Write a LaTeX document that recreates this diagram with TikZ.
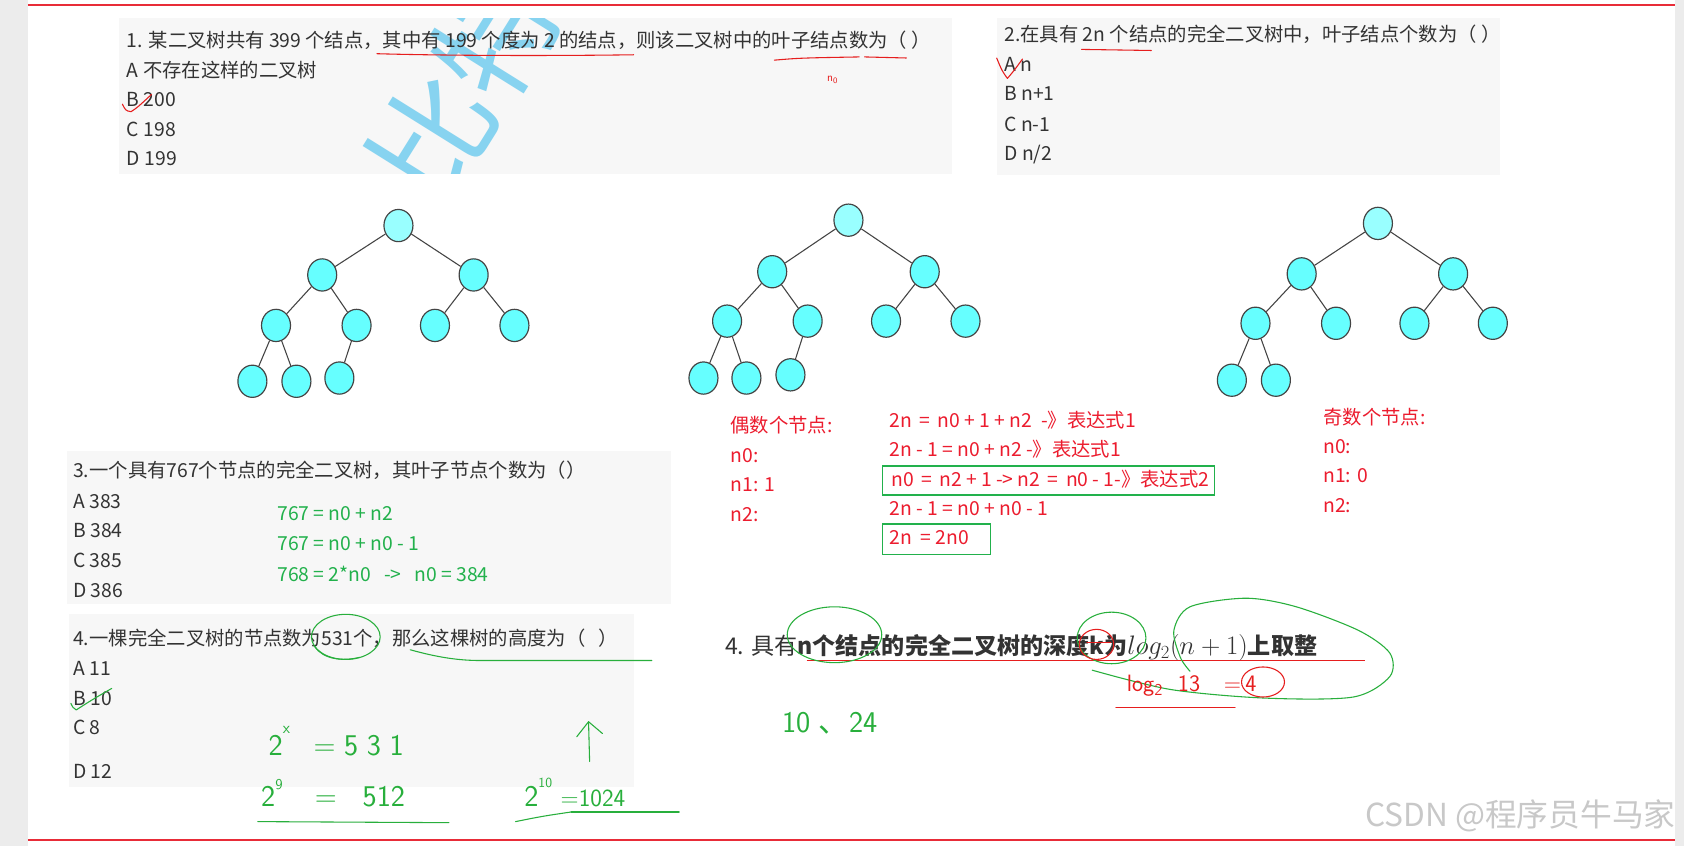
\documentclass[tikz,border=0pt]{standalone}
\usepackage{fontspec}
\usepackage{xcolor}
\usetikzlibrary{shapes.geometric,arrows.meta}
\newfontfamily\cjk{Noto Sans CJK SC}

\definecolor{sidegray}{RGB}{236,236,236}
\definecolor{panelgray}{RGB}{247,247,247}
\definecolor{inkgray}{RGB}{51,51,51}
\definecolor{redrule}{RGB}{232,44,56}
\definecolor{notered}{RGB}{236,28,46}
\definecolor{notegreen}{RGB}{34,177,76}
\definecolor{penred}{RGB}{230,30,30}
\definecolor{pengreen}{RGB}{40,175,60}
\definecolor{wmblue}{RGB}{135,211,240}
\definecolor{leafcyan}{RGB}{102,255,255}
\definecolor{rootcyan}{RGB}{153,255,255}
\definecolor{edgegray}{RGB}{68,68,68}
\definecolor{markgray}{RGB}{200,200,200}

\begin{document}
\begin{tikzpicture}[x=1pt,y=-1pt,
    qline/.style={anchor=base west, inner sep=0pt, text=inkgray,
                  font=\cjk\fontsize{18}{21}\selectfont},
    rnote/.style={qline, text=notered},
    gnote/.style={qline, text=notegreen},
    tnode/.style={ellipse, draw=edgegray, line width=1.1pt, fill=leafcyan,
                  minimum width=27pt, minimum height=30pt, inner sep=0pt},
    troot/.style={tnode, fill=rootcyan},
    tedge/.style={draw=edgegray, line width=1pt},
    penr/.style={draw=penred, line width=1pt, line cap=round, line join=round},
    peng/.style={draw=pengreen, line width=1pt, line cap=round, line join=round},
    gframe/.style={draw=notegreen, line width=1.2pt},
    hand/.style={anchor=base west, inner sep=0pt, text=pengreen,
                 font=\sffamily\fontsize{28}{28}\selectfont}]

  \useasboundingbox (0,0) rectangle (1568,788);
  \fill[white] (0,0) rectangle (1568,788);

  %% page frame: grey margins and the two red rules
  \fill[sidegray] (0,0) rectangle (26,788);
  \fill[sidegray] (1560,0) rectangle (1568,788);
  \draw[redrule, line width=2pt] (26,5) -- (1560,5);
  \draw[redrule, line width=2pt] (26,782) -- (1560,782);

  %% ---- question 1 ----
  \fill[panelgray] (111,17) rectangle (886,162);
  \begin{scope}
    \clip (111,17) rectangle (886,162);
    \node[rotate=58, text=wmblue, font=\cjk\fontsize{112}{112}\selectfont] (wm) at (432,80) {比特};
  \end{scope}
  \node[qline] (q1) at (118,44) {1. 某二叉树共有 399 个结点，其中有 199 个度为 2 的结点，则该二叉树中的叶子结点数为（ ）};
  \node[qline] (q1a) at (118,72) {A 不存在这样的二叉树};
  \node[qline] (q1b) at (118,99) {B 200};
  \node[qline] (q1c) at (118,127) {C 198};
  \node[qline] (q1d) at (118,154) {D 199};
  \draw[penr] (351,50) .. controls (420,52) and (520,52) .. (590,51);
  \draw[penr] (721,56) .. controls (745,54) .. (800,53);
  \draw[penr] (805,53) -- (844,54);
  \node[anchor=base west, inner sep=0pt, text=penred, font=\sffamily\fontsize{11}{11}\selectfont] (h0) at (770,76) {n\textsubscript{0}};
  \draw[penr] (114,97) .. controls (117,103) .. (122,104) .. controls (128,100) .. (141,88);

  %% ---- question 2 ----
  \fill[panelgray] (928,17) rectangle (1397,163);
  \node[qline] (q2) at (935,39) {2.在具有 2n 个结点的完全二叉树中，叶子结点个数为（ ）};
  \node[qline] (q2a) at (935,67) {A n};
  \node[qline] (q2b) at (935,94) {B n+1};
  \node[qline] (q2c) at (935,122) {C n-1};
  \node[qline] (q2d) at (935,149) {D n/2};
  \draw[penr] (1007,46) -- (1072,47);
  \draw[penr] (928,54) .. controls (933,66) .. (938,73) .. controls (944,66) .. (952,55);

  %% ---- three complete binary trees ----
  \node[troot] (a) at (371,210) {};
  \node[tnode] (a1) at (300,256) {};
  \node[tnode] (a2) at (441,256) {};
  \node[tnode] (a11) at (257,303) {};
  \node[tnode] (a12) at (332,303) {};
  \node[tnode] (a21) at (405,303) {};
  \node[tnode] (a22) at (479,303) {};
  \node[tnode] (a111) at (235,355) {};
  \node[tnode] (a112) at (276,355) {};
  \node[tnode] (a121) at (316,352) {};
  \draw[tedge] (a) -- (a1) (a) -- (a2) (a1) -- (a11) (a1) -- (a12) (a2) -- (a21) (a2) -- (a22)
               (a11) -- (a111) (a11) -- (a112) (a12) -- (a121);

  \node[troot] (b) at (790,205) {};
  \node[tnode] (b1) at (719,253) {};
  \node[tnode] (b2) at (861,253) {};
  \node[tnode] (b11) at (677,299) {};
  \node[tnode] (b12) at (752,299) {};
  \node[tnode] (b21) at (825,299) {};
  \node[tnode] (b22) at (899,299) {};
  \node[tnode] (b111) at (655,352) {};
  \node[tnode] (b112) at (695,352) {};
  \node[tnode] (b121) at (736,349) {};
  \draw[tedge] (b) -- (b1) (b) -- (b2) (b1) -- (b11) (b1) -- (b12) (b2) -- (b21) (b2) -- (b22)
               (b11) -- (b111) (b11) -- (b112) (b12) -- (b121);

  \node[troot] (c) at (1283,208) {};
  \node[tnode] (c1) at (1212,255) {};
  \node[tnode] (c2) at (1353,255) {};
  \node[tnode] (c11) at (1169,301) {};
  \node[tnode] (c12) at (1244,301) {};
  \node[tnode] (c21) at (1317,301) {};
  \node[tnode] (c22) at (1390,301) {};
  \node[tnode] (c111) at (1147,354) {};
  \node[tnode] (c112) at (1188,354) {};
  \draw[tedge] (c) -- (c1) (c) -- (c2) (c1) -- (c11) (c1) -- (c12) (c2) -- (c21) (c2) -- (c22)
               (c11) -- (c111) (c11) -- (c112);

  %% ---- even / odd notes ----
  \node[rnote] (ev) at (680,403) {偶数个节点:};
  \node[rnote] (ev0) at (680,431) {n0:};
  \node[rnote] (ev1) at (680,458) {n1: 1};
  \node[rnote] (ev2) at (680,486) {n2:};
  \node[rnote] (ex1) at (828,398) {2n \,=\, n0 + 1 + n2 \ -》表达式1};
  \node[rnote] (ex2) at (828,425) {2n - 1 = n0 + n2 -》表达式1};
  \node[rnote] (ex3) at (830,453) {n0 \,=\, n2 + 1 -\kern-1pt> n2 \,=\, n0 - 1-》表达式2};
  \node[rnote] (ex4) at (828,480) {2n - 1 = n0 + n0 - 1};
  \node[rnote] (ex5) at (828,507) {2n \ = 2n0};
  \draw[gframe] (822,434) rectangle (1131,461);
  \draw[gframe] (822,488) rectangle (922,516);

  \node[rnote] (od) at (1232,395) {奇数个节点:};
  \node[rnote] (od0) at (1232,422) {n0:};
  \node[rnote] (od1) at (1232,449) {n1: 0};
  \node[rnote] (od2) at (1232,477) {n2:};

  %% ---- question 3 ----
  \fill[panelgray] (62,420) rectangle (625,562);
  \node[qline] (q3) at (68,445) {3.一个具有767个节点的完全二叉树，其叶子节点个数为（）};
  \node[qline] (q3a) at (68,473) {A 383};
  \node[qline] (q3b) at (68,500) {B 384};
  \node[qline] (q3c) at (68,528) {C 385};
  \node[qline] (q3d) at (68,556) {D 386};
  \node[gnote] (s1) at (258,485) {767 = n0 + n2};
  \node[gnote] (s2) at (258,513) {767 = n0 + n0 - 1};
  \node[gnote] (s3) at (258,541) {768 = 2*n0 \ \ -> \ \ n0 = 384};

  %% ---- question 4 ----
  \fill[panelgray] (64,572) rectangle (590,733);
  \node[qline] (q4) at (68,601) {4.一棵完全二叉树的节点数为531个，那么这棵树的高度为（ \ \ ）};
  \node[qline] (q4a) at (68,629) {A 11};
  \node[qline] (q4b) at (68,657) {B 10};
  \node[qline] (q4c) at (68,684) {C 8};
  \node[qline] (q4d) at (68,725) {D 12};
  \draw[peng] (322,593) ellipse [x radius=32, y radius=21];
  \draw[peng] (293,602) .. controls (301,614) and (319,616) .. (335,612);
  \draw[peng] (382,605) .. controls (407,612) and (427,615) .. (447,615) -- (607,615);
  \draw[peng] (66,655) .. controls (68,659) .. (71,661) .. controls (85,652) .. (104,641);

  \node[hand] (hx) at (250,703) {2\raisebox{20pt}{\fontsize{15}{15}\selectfont x}\hspace{22pt}=\hspace{8pt}5\hspace{8pt}3\hspace{8pt}1};
  \node[hand] (h9) at (243,751) {2\raisebox{16pt}{\fontsize{14}{14}\selectfont 9}\hspace{30pt}=\hspace{24pt}512};
  \node[hand] (h10) at (488,751) {2\raisebox{18pt}{\fontsize{13}{13}\selectfont 10}\hspace{8pt}{\fontsize{23}{23}\selectfont =1024}};
  \draw[peng] (240,765) -- (418,766);
  \draw[peng] (480,765) .. controls (505,760) .. (532,756);
  \draw[pengreen, line width=2pt, line cap=round] (532,756) -- (632,756);
  \coordinate (upfoot) at (549,709);
  \coordinate (uptip) at (548,672);
  \draw[peng] (upfoot) -- (uptip);
  \draw[peng] ([xshift=-11pt,yshift=-14pt]uptip) -- (uptip) -- ([xshift=13pt,yshift=-11pt]uptip);

  %% ---- depth formula ----
  \node[anchor=base west, inner sep=0pt, text=inkgray, font=\cjk\fontsize{21.5}{24}\selectfont] (k4)
    at (675,609) {4. 具有\textbf{n个结点的完全二叉树的深度k为}{\fontsize{25}{28}\selectfont$log_2(n+1)$}\textbf{上取整}};
  \draw[penred, line width=1.5pt] (751,615) -- (1271,615);
  \draw[peng] (777,591) ellipse [x radius=44, y radius=26];
  \draw[peng] (1035,594) ellipse [x radius=32, y radius=24];
  \draw[peng] plot[smooth] coordinates {(1017,624) (1090,642) (1178,650) (1260,649) (1294,630)
      (1294,608) (1265,587) (1207,565) (1160,557) (1108,565) (1093,587) (1099,612) (1108,625)};
  \draw[penr] (1021,600) ellipse [x radius=16, y radius=14];
  \draw[penr] (1012,598) -- (1034,598);
  \node[anchor=base west, inner sep=0pt, text=penred, font=\sffamily\fontsize{22}{22}\selectfont] (lg)
    at (1049,644) {log\textsubscript{2}\hspace{14pt}13\hspace{22pt}=\hspace{4pt}4};
  \draw[penr] (1176,635) ellipse [x radius=20, y radius=14];
  \draw[penr] (1039,659) -- (1150,659);
  \node[anchor=base west, inner sep=0pt, text=pengreen, font=\sffamily\fontsize{28}{28}\selectfont] (k1024)
    at (728,682) {10\hspace{8pt}{\cjk 、}\hspace{0pt}24};

  %% ---- site mark ----
  \node[anchor=base west, inner sep=0pt, text=markgray, font=\cjk\fontsize{29.5}{30}\selectfont] (csdn)
    at (1271,770) {CSDN @程序员牛马家};
\end{tikzpicture}
\end{document}
